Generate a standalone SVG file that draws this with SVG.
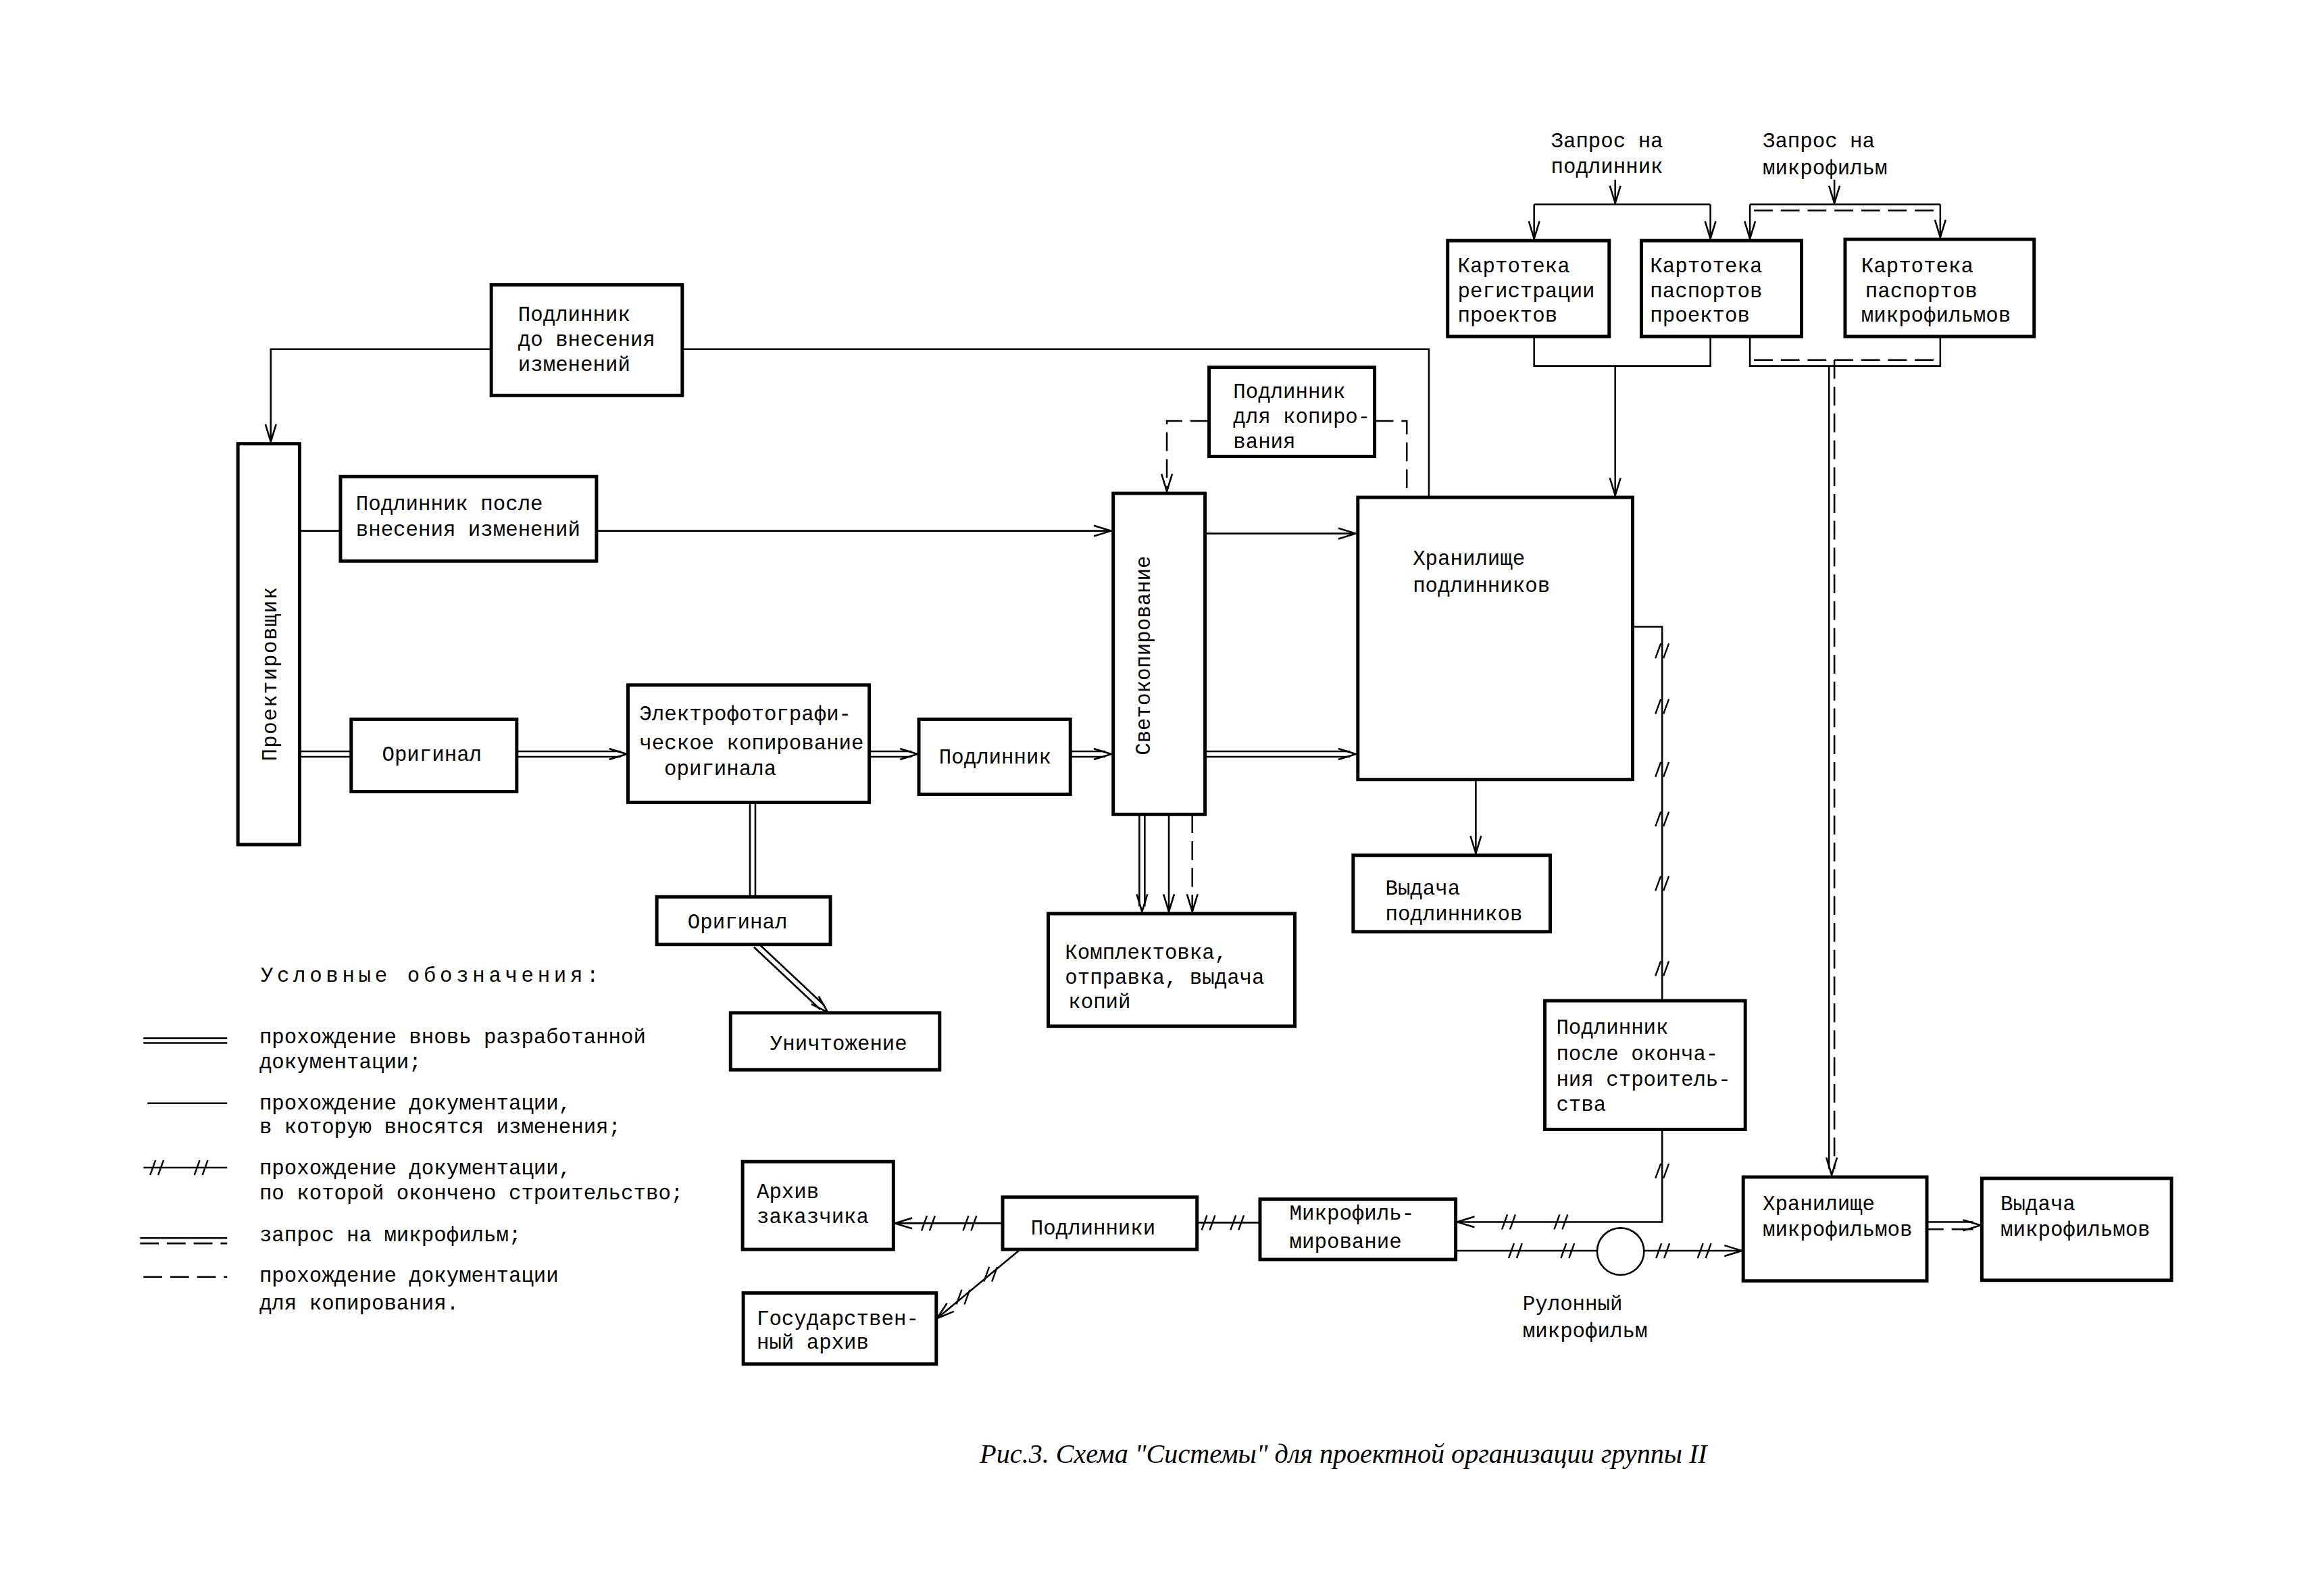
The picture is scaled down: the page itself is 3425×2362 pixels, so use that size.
<svg xmlns="http://www.w3.org/2000/svg" xmlns:xlink="http://www.w3.org/1999/xlink" width="3425" height="2362" viewBox="0 0 3425 2362">
<style>
.b{fill:#fff;stroke:#000;stroke-width:5}
.l{fill:none;stroke:#000;stroke-width:2.6}
.d{fill:none;stroke:#000;stroke-width:2.6;stroke-dasharray:28 12}
.inv{fill:none;stroke:none}
.t{font-family:"Liberation Mono","DejaVu Sans Mono",monospace;font-size:31px;fill:#000}
.cap{font-family:"Liberation Serif","DejaVu Serif",serif;font-style:italic;font-size:40px;fill:#000}
</style>
<defs>
<marker id="a" markerUnits="userSpaceOnUse" viewBox="0 0 28 20" markerWidth="28" markerHeight="20" refX="27" refY="10" orient="auto">
<path d="M1,2 L27,10 L1,18" fill="none" stroke="#000" stroke-width="2.6"/>
</marker>
<g id="tk"><path d="M-10,11 L-2,-11 M2,11 L10,-11" fill="none" stroke="#000" stroke-width="2.4"/></g>
</defs>
<rect width="3425" height="2362" fill="#fff"/>
<g id="diagram" transform="scale(0.992)">
<g id="connectors">
<path class="l" d="M2410,268 V303" marker-end="url(#a)"/>
<path class="l" d="M2289,305 H2552"/>
<path class="l" d="M2289,305 V356" marker-end="url(#a)"/>
<path class="l" d="M2552,305 V356" marker-end="url(#a)"/>
<path class="l" d="M2737,268 V303" marker-end="url(#a)"/>
<path class="l" d="M2611,305 H2895"/>
<path class="d" d="M2617,314 H2895"/>
<path class="l" d="M2611,305 V356" marker-end="url(#a)"/>
<path class="l" d="M2895,305 V354" marker-end="url(#a)"/>
<path class="l" d="M2289,502 V546 H2552 V502"/>
<path class="l" d="M2410,546 V739" marker-end="url(#a)"/>
<path class="l" d="M2611,502 V546 H2895 V502"/>
<path class="d" d="M2617,537 H2890"/>
<path class="l" d="M2729,546 V1744"/>
<path class="d" d="M2737,537 V1744"/>
<path class="inv" d="M2733,1700 V1753" marker-end="url(#a)"/>
<path class="l" d="M733,521 H404 V659" marker-end="url(#a)"/>
<path class="l" d="M1018,521 H2132 V742"/>
<path class="l" d="M447,792 H508"/>
<path class="l" d="M890,792 H1658" marker-end="url(#a)"/>
<path class="l" d="M447,1121 H524 M447,1129 H524"/>
<path class="l" d="M771,1121 H926 M771,1129 H926"/>
<path class="inv" d="M900,1125 H935" marker-end="url(#a)"/>
<path class="l" d="M1297,1121 H1360 M1297,1129 H1360"/>
<path class="inv" d="M1330,1125 H1369" marker-end="url(#a)"/>
<path class="l" d="M1597,1121 H1649 M1597,1129 H1649"/>
<path class="inv" d="M1620,1125 H1658" marker-end="url(#a)"/>
<path class="l" d="M1798,1121 H2014 M1798,1129 H2014"/>
<path class="inv" d="M1980,1125 H2023" marker-end="url(#a)"/>
<path class="l" d="M1798,796 H2023" marker-end="url(#a)"/>
<path class="d" d="M1804,628 H1741 V733"/>
<path class="inv" d="M1741,700 V733" marker-end="url(#a)"/>
<path class="d" d="M2051,628 H2099 V742"/>
<path class="l" d="M1700,1215 V1352 M1708,1215 V1352"/>
<path class="inv" d="M1704,1320 V1360" marker-end="url(#a)"/>
<path class="l" d="M1744,1215 V1360" marker-end="url(#a)"/>
<path class="d" d="M1779,1215 V1360"/>
<path class="inv" d="M1779,1320 V1360" marker-end="url(#a)"/>
<path class="l" d="M2202,1163 V1273" marker-end="url(#a)"/>
<path class="l" d="M2436,935 H2480 V1493"/>
<use href="#tk" x="2480" y="971"/>
<use href="#tk" x="2480" y="1054"/>
<use href="#tk" x="2480" y="1148"/>
<use href="#tk" x="2480" y="1222"/>
<use href="#tk" x="2480" y="1318"/>
<use href="#tk" x="2480" y="1445"/>
<path class="l" d="M2480,1685 V1823 H2174" marker-end="url(#a)"/>
<use href="#tk" x="2480" y="1747"/>
<use href="#tk" x="2251" y="1823"/>
<use href="#tk" x="2329" y="1823"/>
<path class="l" d="M2172,1866 H2383"/>
<path class="l" d="M2453,1866 H2599" marker-end="url(#a)"/>
<use href="#tk" x="2261" y="1866"/>
<use href="#tk" x="2339" y="1866"/>
<use href="#tk" x="2481" y="1866"/>
<use href="#tk" x="2543" y="1866"/>
<path class="l" d="M1880,1824 H1786"/>
<use href="#tk" x="1803" y="1824"/>
<use href="#tk" x="1846" y="1824"/>
<path class="l" d="M1496,1825 H1335" marker-end="url(#a)"/>
<use href="#tk" x="1385" y="1825"/>
<use href="#tk" x="1447" y="1825"/>
<path class="l" d="M1520,1866 L1398,1967" marker-end="url(#a)"/>
<use href="#tk" x="1478" y="1901"/>
<use href="#tk" x="1437" y="1935"/>
<path class="l" d="M1119,1197 V1338 M1127,1197 V1338"/>
<path class="l" d="M1125,1413 L1224,1506 M1131,1407 L1230,1500"/>
<path class="inv" d="M1128,1410 L1235,1510" marker-end="url(#a)"/>
<path class="l" d="M2875,1823 H2944"/>
<path class="l" d="M2875,1834 H2900 M2912,1834 H2944"/>
<path class="inv" d="M2910,1828 H2955" marker-end="url(#a)"/>
</g>

<g id="n-kart-reg"><rect class="b" x="2160" y="359" width="241" height="143"/>
<text class="t" x="2175" y="406">Картотека</text><text class="t" x="2175" y="444">регистрации</text><text class="t" x="2175" y="480">проектов</text></g>
<g id="n-kart-pasp"><rect class="b" x="2449" y="359" width="239" height="143"/>
<text class="t" x="2462" y="406">Картотека</text><text class="t" x="2462" y="444">паспортов</text><text class="t" x="2462" y="480">проектов</text></g>
<g id="n-kart-micro"><rect class="b" x="2753" y="357" width="282" height="145"/>
<text class="t" x="2777" y="406">Картотека</text><text class="t" x="2783" y="444">паспортов</text><text class="t" x="2777" y="480">микрофильмов</text></g>
<g id="n-req-podl"><text class="t" x="2314" y="220">Запрос на</text><text class="t" x="2314" y="258">подлинник</text></g>
<g id="n-req-micro"><text class="t" x="2630" y="220">Запрос на</text><text class="t" x="2630" y="260">микрофильм</text></g>

<g id="n-podl-do"><rect class="b" x="733" y="425" width="285" height="165"/>
<text class="t" x="773" y="479">Подлинник</text><text class="t" x="773" y="516">до внесения</text><text class="t" x="773" y="553">изменений</text></g>
<g id="n-proekt"><rect class="b" x="355" y="662" width="92" height="598"/>
<text class="t" x="401" y="1016" text-anchor="middle" letter-spacing="1.5" transform="rotate(-90 401 1005)">Проектировщик</text></g>
<g id="n-podl-posle"><rect class="b" x="508" y="711" width="382" height="126"/>
<text class="t" x="531" y="761">Подлинник после</text><text class="t" x="531" y="799">внесения изменений</text></g>
<g id="n-orig1"><rect class="b" x="524" y="1073" width="247" height="108"/>
<text class="t" x="570" y="1135">Оригинал</text></g>
<g id="n-electro"><rect class="b" x="937" y="1022" width="360" height="175"/>
<text class="t" x="954" y="1075">Электрофотографи-</text><text class="t" x="954" y="1118">ческое копирование</text><text class="t" x="991" y="1156">оригинала</text></g>
<g id="n-podl"><rect class="b" x="1371" y="1073" width="226" height="112"/>
<text class="t" x="1401" y="1139">Подлинник</text></g>
<g id="n-sveto"><rect class="b" x="1661" y="736" width="137" height="479"/>
<text class="t" x="1705" y="989" text-anchor="middle" transform="rotate(-90 1705 978)">Светокопирование</text></g>
<g id="n-podl-kop"><rect class="b" x="1804" y="548" width="247" height="133"/>
<text class="t" x="1840" y="594">Подлинник</text><text class="t" x="1840" y="631">для копиро-</text><text class="t" x="1840" y="668">вания</text></g>
<g id="n-hran-podl"><rect class="b" x="2026" y="742" width="410" height="421"/>
<text class="t" x="2108" y="843">Хранилище</text><text class="t" x="2108" y="883">подлинников</text></g>
<g id="n-kompl"><rect class="b" x="1564" y="1363" width="368" height="168"/>
<text class="t" x="1589" y="1430">Комплектовка,</text><text class="t" x="1589" y="1468">отправка, выдача</text><text class="t" x="1594" y="1504">копий</text></g>
<g id="n-vyd-podl"><rect class="b" x="2019" y="1276" width="294" height="114"/>
<text class="t" x="2067" y="1335">Выдача</text><text class="t" x="2067" y="1373">подлинников</text></g>
<g id="n-podl-okon"><rect class="b" x="2305" y="1493" width="299" height="192"/>
<text class="t" x="2322" y="1542">Подлинник</text><text class="t" x="2322" y="1582">после оконча-</text><text class="t" x="2322" y="1620">ния строитель-</text><text class="t" x="2322" y="1657">ства</text></g>
<g id="n-microfilm"><rect class="b" x="1880" y="1789" width="292" height="90"/>
<text class="t" x="1924" y="1820">Микрофиль-</text><text class="t" x="1924" y="1862">мирование</text></g>
<g id="n-roll"><circle class="l" cx="2418" cy="1867" r="35"/>
<text class="t" x="2272" y="1955">Рулонный</text><text class="t" x="2272" y="1995">микрофильм</text></g>
<g id="n-hran-micro"><rect class="b" x="2601" y="1756" width="274" height="155"/>
<text class="t" x="2630" y="1805">Хранилище</text><text class="t" x="2630" y="1844">микрофильмов</text></g>
<g id="n-vyd-micro"><rect class="b" x="2957" y="1758" width="283" height="152"/>
<text class="t" x="2985" y="1805">Выдача</text><text class="t" x="2985" y="1844">микрофильмов</text></g>
<g id="n-podlinniki"><rect class="b" x="1496" y="1786" width="290" height="78"/>
<text class="t" x="1538" y="1842">Подлинники</text></g>
<g id="n-arh-zak"><rect class="b" x="1108" y="1733" width="225" height="131"/>
<text class="t" x="1129" y="1787">Архив</text><text class="t" x="1129" y="1825">заказчика</text></g>
<g id="n-gos-arh"><rect class="b" x="1109" y="1929" width="288" height="106"/>
<text class="t" x="1129" y="1977">Государствен-</text><text class="t" x="1129" y="2012">ный архив</text></g>
<g id="n-orig2"><rect class="b" x="980" y="1338" width="259" height="71"/>
<text class="t" x="1026" y="1385">Оригинал</text></g>
<g id="n-unich"><rect class="b" x="1090" y="1511" width="312" height="85"/>
<text class="t" x="1149" y="1567">Уничтожение</text></g>

<g id="legend">
<text class="t" x="389" y="1465" letter-spacing="5.7">Условные обозначения:</text>
<path class="l" d="M214,1549 H339 M214,1556 H339"/>
<text class="t" x="387" y="1556">прохождение вновь разработанной</text>
<text class="t" x="387" y="1594">документации;</text>
<path class="l" d="M220,1646 H339"/>
<text class="t" x="387" y="1655">прохождение документации,</text>
<text class="t" x="387" y="1691">в которую вносятся изменения;</text>
<path class="l" d="M214,1742 H339"/>
<use href="#tk" x="234" y="1742"/>
<use href="#tk" x="300" y="1742"/>
<text class="t" x="387" y="1752">прохождение документации,</text>
<text class="t" x="387" y="1789">по которой окончено строительство;</text>
<path class="l" d="M209,1847 H339"/>
<path class="d" d="M209,1855 H339"/>
<text class="t" x="387" y="1852">запрос на микрофильм;</text>
<path class="d" d="M214,1905 H339"/>
<text class="t" x="387" y="1912">прохождение документации</text>
<text class="t" x="387" y="1954">для копирования.</text>
</g>

<text class="cap" x="1462" y="2182" textLength="1085" lengthAdjust="spacingAndGlyphs">Рис.3. Схема "Системы" для проектной организации группы II</text>
</g>
</svg>
